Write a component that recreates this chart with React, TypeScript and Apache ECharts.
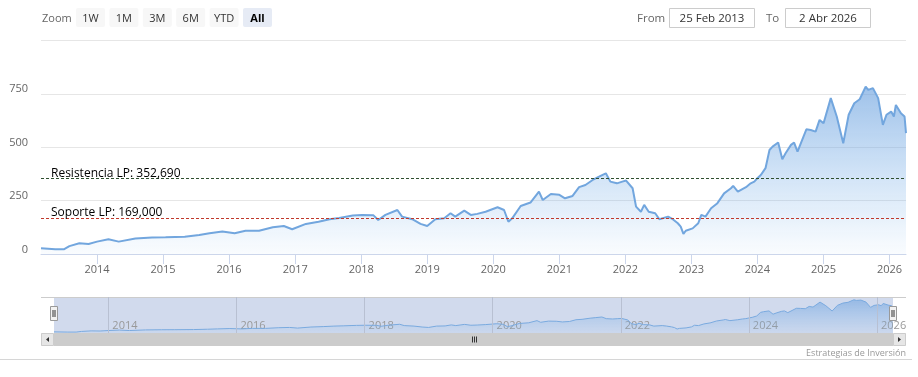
import React, { useEffect, useRef } from 'react';
import * as echarts from 'echarts';

// ---- data ----
const priceDates = [
  '2013-02-25', '2013-05-15', '2013-07-01', '2013-08-01', '2013-09-25', '2013-11-15',
  '2014-01-01', '2014-03-05', '2014-05-01', '2014-08-01', '2014-11-01',
  '2015-01-15', '2015-05-01', '2015-07-20', '2015-09-15', '2015-11-25',
  '2016-02-01', '2016-04-01', '2016-06-15', '2016-08-30', '2016-10-30', '2016-12-15',
  '2017-03-01', '2017-05-10', '2017-07-10', '2017-09-01', '2017-11-15',
  '2018-01-05', '2018-03-10', '2018-04-05', '2018-05-15', '2018-07-20', '2018-08-15', '2018-10-10', '2018-11-25',
  '2019-01-01', '2019-02-15', '2019-04-05', '2019-05-10', '2019-06-05', '2019-07-25', '2019-08-30', '2019-10-05', '2019-11-20',
  '2020-01-25', '2020-03-01', '2020-03-25', '2020-04-15', '2020-06-01', '2020-07-25', '2020-09-10', '2020-10-01', '2020-11-15',
  '2021-01-01', '2021-02-01', '2021-03-15', '2021-04-20', '2021-05-25', '2021-07-10', '2021-08-08', '2021-09-15', '2021-10-10', '2021-11-15', '2021-12-15',
  '2022-01-05', '2022-02-10', '2022-03-01', '2022-03-28', '2022-04-15', '2022-05-10', '2022-06-15', '2022-07-08', '2022-08-25', '2022-09-20', '2022-10-18', '2022-11-03', '2022-11-18', '2022-12-01',
  '2023-01-08', '2023-02-08', '2023-02-25', '2023-03-20', '2023-04-20', '2023-05-25', '2023-07-01', '2023-08-08', '2023-08-20', '2023-09-15', '2023-10-30', '2023-11-25', '2023-12-15',
  '2024-01-01', '2024-01-20', '2024-02-15', '2024-03-08', '2024-03-25', '2024-04-25', '2024-05-18', '2024-06-05', '2024-07-05', '2024-07-22', '2024-08-10', '2024-09-28', '2024-10-22', '2024-11-18', '2024-12-10',
  '2025-01-01', '2025-02-10', '2025-03-15', '2025-04-20', '2025-05-20', '2025-06-20', '2025-07-20', '2025-08-22', '2025-09-05', '2025-10-01', '2025-10-30', '2025-11-25', '2025-12-15',
  '2026-01-10', '2026-01-25', '2026-02-05', '2026-03-05', '2026-03-25', '2026-04-02',
];
const priceValues = [
  27, 22, 22, 37, 50, 47,
  58, 69, 58, 73, 77,
  78, 81, 89, 97, 105,
  97, 109, 109, 125, 131, 116,
  141, 151, 163, 169, 180,
  183, 181, 159, 183, 206, 175, 163, 141,
  131, 163, 167, 191, 175, 203, 183, 188, 198,
  219, 206, 151, 167, 225, 241, 292, 253, 281,
  277, 261, 272, 313, 323, 350, 362, 378, 339, 331, 339,
  344, 308, 222, 198, 230, 198, 191, 163, 175, 163, 144, 128, 94, 109,
  120, 144, 183, 175, 214, 238, 284, 308, 319, 292, 313, 331, 339,
  355, 370, 402, 487, 503, 522, 444, 472, 511, 522, 480, 584, 581, 573, 628,
  612, 730, 644, 519, 652, 706, 725, 784, 769, 777, 730, 605, 652,
  667, 644, 698, 659, 644, 566,
];
const yearTickLabels = ['2014', '2015', '2016', '2017', '2018', '2019', '2020', '2021', '2022', '2023', '2024', '2025', '2026'];
const navYearTickLabels = ['2014', '2016', '2018', '2020', '2022', '2024', '2026'];
const yMin = 0;
const yMax = 1000;
const yStep = 250;
const navYMax = 850;
const resistanceLevel = 352.69;
const supportLevel = 169.0;
const rangeButtons = ['1W', '1M', '3M', '6M', 'YTD', 'All'];
const selectedButton = 'All';
const startDate = '2013-02-25';
const endDate = '2026-04-02';
const fromText = '25 Feb 2013';
const toText = '2 Abr 2026';
const creditsText = 'Estrategias de Inversión';

const FONT = "'Open Sans', 'DejaVu Sans', sans-serif";
const YEAR_MS = 365.25 * 24 * 3600 * 1000;

function ts(s: string): number {
  const [y, m, d] = s.split('-').map(Number);
  return Date.UTC(y, m - 1, d);
}
function yearTs(y: string): number {
  return Date.UTC(Number(y), 0, 1);
}
function fmtLevel(v: number): string {
  return v.toFixed(3).replace('.', ',');
}

export default function App() {
  const ref = useRef<HTMLDivElement>(null);
  useEffect(() => {
    const chart = echarts.init(ref.current!, null, { renderer: 'svg' });
    const seriesData = priceDates.map((d, i) => [ts(d), priceValues[i]]);
    const navTicks = navYearTickLabels.map(yearTs);
    const yearLabel = (list: string[]) => (v: number) => {
      const d = new Date(v);
      if (d.getUTCMonth() !== 0 || d.getUTCDate() !== 1) return '';
      const y = String(d.getUTCFullYear());
      return list.indexOf(y) >= 0 ? y : '';
    };

    const graphics: any[] = [];
    // range selector
    graphics.push({
      type: 'text', x: 42, y: 17,
      style: { text: 'Zoom', fill: '#666666', font: `11px ${FONT}`, verticalAlign: 'middle' },
    });
    rangeButtons.forEach((b, i) => {
      const x = 76 + i * 33.4;
      const sel = b === selectedButton;
      graphics.push({
        type: 'rect', shape: { x, y: 8, width: 29, height: 19, r: 2 },
        style: { fill: sel ? '#e6ebf5' : '#f7f7f7' },
      });
      graphics.push({
        type: 'text', x: x + 14.5, y: 17.5,
        style: {
          text: b, fill: sel ? '#000000' : '#333333',
          font: `${sel ? 'bold ' : ''}11px ${FONT}`, align: 'center', verticalAlign: 'middle',
        },
      });
    });
    // input boxes
    graphics.push({ type: 'text', x: 637, y: 17, style: { text: 'From', fill: '#666666', font: `11.5px ${FONT}`, verticalAlign: 'middle' } });
    graphics.push({ type: 'rect', shape: { x: 669.5, y: 8.5, width: 85, height: 19 }, style: { fill: '#ffffff', stroke: '#cccccc', lineWidth: 1 } });
    graphics.push({ type: 'text', x: 712, y: 17.5, style: { text: fromText, fill: '#333333', font: `11.5px ${FONT}`, align: 'center', verticalAlign: 'middle' } });
    graphics.push({ type: 'text', x: 766, y: 17, style: { text: 'To', fill: '#666666', font: `11.5px ${FONT}`, verticalAlign: 'middle' } });
    graphics.push({ type: 'rect', shape: { x: 785.5, y: 8.5, width: 85, height: 19 }, style: { fill: '#ffffff', stroke: '#cccccc', lineWidth: 1 } });
    graphics.push({ type: 'text', x: 828, y: 17.5, style: { text: toText, fill: '#333333', font: `11.5px ${FONT}`, align: 'center', verticalAlign: 'middle' } });

    // navigator mask & outline
    graphics.push({ type: 'rect', z: -1, shape: { x: 54, y: 297, width: 839, height: 36 }, style: { fill: 'rgba(102,133,194,0.3)' } });
    graphics.push({ type: 'line', shape: { x1: 41, y1: 297.5, x2: 906, y2: 297.5 }, style: { stroke: '#cccccc', lineWidth: 1 } });
    // scrollbar
    graphics.push({ type: 'rect', shape: { x: 41, y: 333, width: 865, height: 13 }, style: { fill: '#f2f2f2' } });
    graphics.push({ type: 'rect', shape: { x: 54, y: 333, width: 839, height: 13 }, style: { fill: '#cccccc' } });
    graphics.push({ type: 'rect', shape: { x: 41.5, y: 333.5, width: 12, height: 12 }, style: { fill: '#e6e6e6', stroke: '#cccccc', lineWidth: 1 } });
    graphics.push({ type: 'rect', shape: { x: 893.5, y: 333.5, width: 12, height: 12 }, style: { fill: '#e6e6e6', stroke: '#cccccc', lineWidth: 1 } });
    graphics.push({ type: 'polygon', shape: { points: [[46, 339.5], [49, 337], [49, 342]] }, style: { fill: '#333333' } });
    graphics.push({ type: 'polygon', shape: { points: [[901, 339.5], [898, 337], [898, 342]] }, style: { fill: '#333333' } });
    [472.5, 474.5, 476.5].forEach((gx) => {
      graphics.push({ type: 'line', shape: { x1: gx, y1: 336.5, x2: gx, y2: 342.5 }, style: { stroke: '#333333', lineWidth: 1 } });
    });
    // navigator handles
    [50.5, 889.5].forEach((hx) => {
      graphics.push({ type: 'rect', z: 10, shape: { x: hx, y: 306.5, width: 7, height: 14 }, style: { fill: '#f2f2f2', stroke: '#999999', lineWidth: 1 } });
      graphics.push({ type: 'line', z: 10, shape: { x1: hx + 2.5, y1: 310, x2: hx + 2.5, y2: 317 }, style: { stroke: '#333333', lineWidth: 1 } });
      graphics.push({ type: 'line', z: 10, shape: { x1: hx + 4.5, y1: 310, x2: hx + 4.5, y2: 317 }, style: { stroke: '#333333', lineWidth: 1 } });
    });
    // credits & border
    graphics.push({ type: 'text', x: 906, y: 352, style: { text: creditsText, fill: '#999999', font: `9px ${FONT}`, align: 'right', verticalAlign: 'middle' } });
    graphics.push({ type: 'line', shape: { x1: 0, y1: 359.5, x2: 912, y2: 359.5 }, style: { stroke: '#d6d6d6', lineWidth: 1 } });

    const option: any = {
      animation: false,
      useUTC: true,
      textStyle: { fontFamily: FONT },
      grid: [
        { left: 41, right: 12, top: 40.5, height: 213.5 },
        { left: 54, right: 25, top: 297, height: 36 },
      ],
      xAxis: [
        {
          type: 'time', gridIndex: 0, min: ts(startDate), max: ts(endDate),
          minInterval: YEAR_MS * 0.99, maxInterval: YEAR_MS * 1.01, splitNumber: 13,
          axisLine: { lineStyle: { color: '#ccd6eb' } },
          axisTick: { length: 10, lineStyle: { color: '#ccd6eb' } },
          axisLabel: {
            formatter: yearLabel(yearTickLabels), showMinLabel: false, showMaxLabel: false,
            color: '#666666', fontSize: 11, fontFamily: FONT, margin: 9, hideOverlap: false,
          },
          splitLine: { show: false },
        },
        {
          type: 'time', gridIndex: 1, min: ts(startDate), max: ts(endDate),
          minInterval: YEAR_MS * 0.99, maxInterval: YEAR_MS * 1.01, splitNumber: 13,
          axisLine: { show: false }, axisTick: { show: false },
          axisLabel: {
            formatter: yearLabel(navYearTickLabels), inside: true, align: 'left',
            showMinLabel: false, showMaxLabel: false, hideOverlap: false,
            padding: [0, 0, 0, 4], color: '#999999', fontSize: 11, fontFamily: FONT, margin: 3,
          },
          splitLine: { show: false },
        },
      ],
      yAxis: [
        {
          type: 'value', gridIndex: 0, min: yMin, max: yMax, interval: yStep,
          axisLine: { show: false }, axisTick: { show: false },
          axisLabel: {
            formatter: (v: number) => (v === yMax ? '' : String(v)),
            color: '#666666', fontSize: 11, fontFamily: FONT, margin: 13,
            verticalAlign: 'bottom', lineHeight: 12,
          },
          splitLine: { lineStyle: { color: '#e6e6e6', width: 1 } },
        },
        { type: 'value', gridIndex: 1, min: 0, max: navYMax, show: false },
      ],
      graphic: graphics,
      series: [
        {
          type: 'line', xAxisIndex: 0, yAxisIndex: 0, data: seriesData,
          symbol: 'none', showSymbol: false,
          lineStyle: { color: '#72a6de', width: 2 },
          areaStyle: {
            color: new echarts.graphic.LinearGradient(0, 0, 0, 1, [
              { offset: 0, color: 'rgba(106,160,222,0.92)' },
              { offset: 1, color: 'rgba(124,181,236,0.06)' },
            ]),
          },
          markLine: {
            silent: true, symbol: ['none', 'none'], animation: false,
            data: [
              {
                yAxis: resistanceLevel,
                lineStyle: { color: '#2f4f2f', width: 1, type: [3, 2] },
                label: {
                  formatter: `Resistencia LP: ${fmtLevel(resistanceLevel)}`, position: 'insideStartTop',
                  distance: [10, 0], color: '#000000', fontSize: 12, fontFamily: FONT,
                },
              },
              {
                yAxis: supportLevel,
                lineStyle: { color: '#c0392b', width: 1, type: [3, 2] },
                label: {
                  formatter: `Soporte LP: ${fmtLevel(supportLevel)}`, position: 'insideStartTop',
                  distance: [10, 0], color: '#000000', fontSize: 12, fontFamily: FONT,
                },
              },
            ],
          },
        },
        {
          type: 'line', xAxisIndex: 1, yAxisIndex: 1, data: seriesData,
          symbol: 'none', showSymbol: false,
          lineStyle: { color: '#7aaadf', width: 1 },
          areaStyle: {
            color: new echarts.graphic.LinearGradient(0, 0, 0, 1, [
              { offset: 0, color: 'rgba(106,160,222,0.8)' },
              { offset: 1, color: 'rgba(124,181,236,0.1)' },
            ]),
          },
          markLine: {
            silent: true, symbol: ['none', 'none'], animation: false,
            lineStyle: { color: '#b8c0d2', width: 1, type: 'solid' },
            label: { show: false },
            data: navTicks.map((t) => ({ xAxis: t })),
          },
        },
      ],
    };
    chart.setOption(option);
    return () => chart.dispose();
  }, []);
  return <div ref={ref} style={{ position: 'fixed', left: 0, top: 0, width: 918, height: 377 }} />;
}
